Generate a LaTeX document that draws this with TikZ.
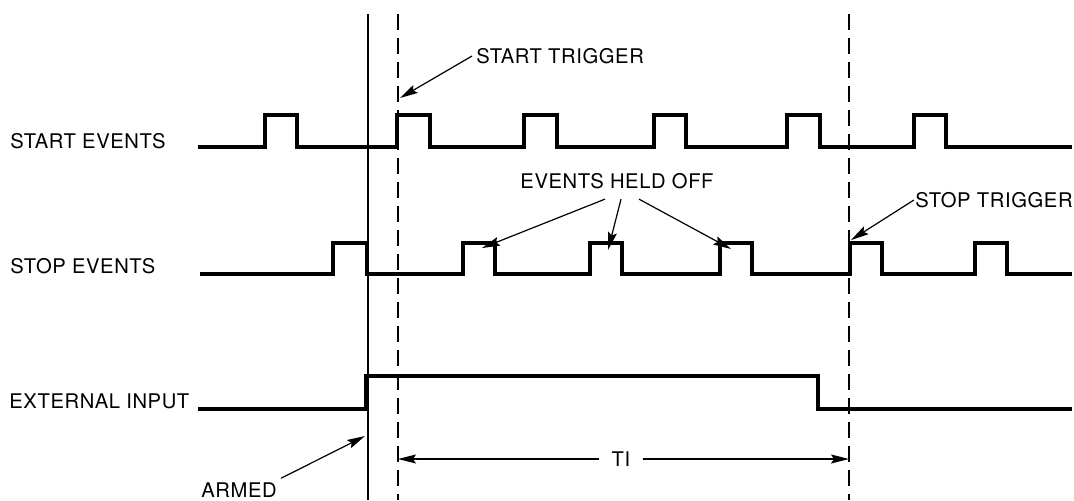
\documentclass[tikz,border=0pt]{standalone}
\usepackage{fontspec}
\setmainfont{TeX Gyre Heros}[LetterSpace=3]
\usetikzlibrary{arrows.meta}

\begin{document}
\begin{tikzpicture}[
		x=0.5pt, y=-0.5pt,
		lbl/.style = {inner sep=2pt, font=\fontsize{10.1}{12}\selectfont},
		sig/.style = {line width=2pt, line join=miter},
		armline/.style = {line width=0.8pt},
		trig/.style = {line width=1pt, dash pattern=on 8pt off 4pt},
		ptr/.style = {-{Stealth[length=9pt, width=4.5pt, inset=1.5pt]}, line width=0.6pt}
		]
		\useasboundingbox (0,0) rectangle (1074,500);
		
		%Nodes
		\node[lbl, anchor=west]	(startev)	at	(6, 141)	{START EVENTS};
		\node[lbl, anchor=west]	(stopev)	at	(6, 266)	{STOP EVENTS};
		\node[lbl, anchor=west]	(extin)		at	(5, 401)	{EXTERNAL INPUT};
		\node[lbl, anchor=west]	(strig)		at	(472, 56)	{START TRIGGER};
		\node[lbl]				(held)		at	(617, 181)	{EVENTS HELD OFF};
		\node[lbl, anchor=east, inner xsep=0.5pt]	(stoptrig)	at	(1074, 200)	{STOP TRIGGER};
		\node[lbl]				(armed)		at	(239, 490)	{ARMED};
		\node[lbl, inner xsep=6pt]	(ti)	at	(621, 459)	{TI};
		
		\coordinate	(strigpt)	at	(400, 98);
		\coordinate	(heldA)		at	(482, 248);
		\coordinate	(heldB)		at	(608, 250);
		\coordinate	(heldC)		at	(731, 249);
		\coordinate	(stoppt)	at	(851, 240);
		\coordinate	(armpt)		at	(365, 436);
		\coordinate	(tiL)		at	(398, 459);
		\coordinate	(tiR)		at	(849, 459);
		
		%Signals
		\draw[sig]	(198,147) -- (265,147) -- (265,115) -- (297,115) -- (297,147)
			-- (397,147) -- (397,115) -- (430,115) -- (430,147)
			-- (524,147) -- (524,115) -- (557,115) -- (557,147)
			-- (654,147) -- (654,115) -- (686,115) -- (686,147)
			-- (787,147) -- (787,115) -- (820,115) -- (820,147)
			-- (914,147) -- (914,115) -- (946,115) -- (946,147) -- (1072,147);
		\draw[sig]	(200,274) -- (333,274) -- (333,243) -- (367,243) -- (367,274)
			-- (463,274) -- (463,243) -- (495,243) -- (495,274)
			-- (590,274) -- (590,243) -- (622,243) -- (622,274)
			-- (720,274) -- (720,243) -- (752,243) -- (752,274)
			-- (850,274) -- (850,243) -- (882,243) -- (882,274)
			-- (975,274) -- (975,243) -- (1007,243) -- (1007,274) -- (1072,274);
		\draw[sig]	(198,409) -- (366,409) -- (366,376) -- (818,376) -- (818,409) -- (1072,409);
		
		%Markers
		\draw[armline]	(368,14) -- (368,500);
		\draw[trig]		(398,14) -- (398,500);
		\draw[trig]		(849,14) -- (849,500);
		
		%Lines
		\draw[ptr]	(strig.west)	to	(strigpt);
		\draw[ptr]	([xshift=-6pt, yshift=-3pt]held.south)	to	(heldA);
		\draw[ptr]	([xshift=2pt, yshift=-3pt]held.south)	to	(heldB);
		\draw[ptr]	([xshift=11pt, yshift=-3pt]held.south)	to	(heldC);
		\draw[ptr]	(stoptrig.west)	to	(stoppt);
		\draw[ptr]	(armed.north east)	to	(armpt);
		\draw[ptr]	(ti.west)	to	(tiL);
		\draw[ptr]	(ti.east)	to	(tiR);
	\end{tikzpicture}
\end{document}
